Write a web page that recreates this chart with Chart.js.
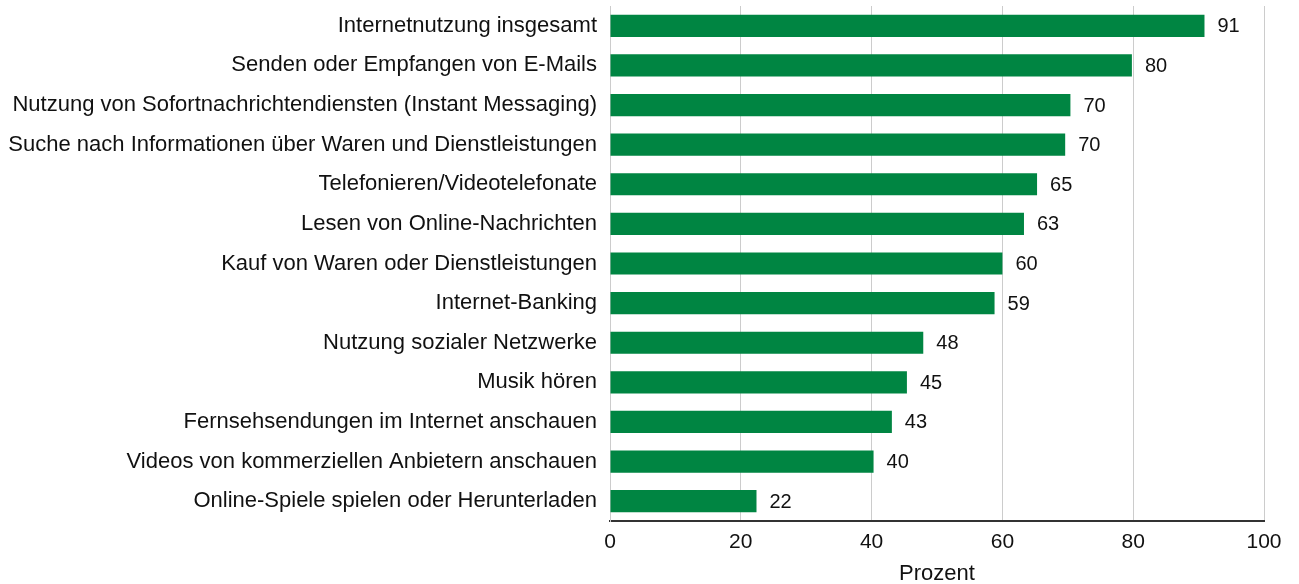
<!DOCTYPE html>
<html lang="de">
<head>
<meta charset="utf-8">
<title>Internetnutzung</title>
<script src="https://cdn.jsdelivr.net/npm/chart.js@4.4.1/dist/chart.umd.min.js"></script>
<style>
  html, body { margin: 0; padding: 0; background: #fff; }
  #wrap { width: 1299px; height: 584px; position: relative; }
</style>
</head>
<body>
<div id="wrap"><canvas id="chart"></canvas></div>
<script>
const categories = [
  "Internetnutzung insgesamt",
  "Senden oder Empfangen von E-Mails",
  "Nutzung von Sofortnachrichtendiensten (Instant Messaging)",
  "Suche nach Informationen über Waren und Dienstleistungen",
  "Telefonieren/Videotelefonate",
  "Lesen von Online-Nachrichten",
  "Kauf von Waren oder Dienstleistungen",
  "Internet-Banking",
  "Nutzung sozialer Netzwerke",
  "Musik hören",
  "Fernsehsendungen im Internet anschauen",
  "Videos von kommerziellen Anbietern anschauen",
  "Online-Spiele spielen oder Herunterladen",
];
const values = [90.9, 79.8, 70.4, 69.6, 65.3, 63.3, 60.0, 58.8, 47.9, 45.4, 43.1, 40.3, 22.4];
const xTicks = [0, 20, 40, 60, 80, 100];
const axisTitle = "Prozent";

const FONT = "'Liberation Sans', Arial, sans-serif";
const GREEN = "#008542";
const TEXT = "#111111";

const valueLabels = {
  id: "valueLabels",
  afterDatasetsDraw(chart) {
    const ctx = chart.ctx;
    const meta = chart.getDatasetMeta(0);
    ctx.save();
    ctx.font = "20px " + FONT;
    ctx.fillStyle = TEXT;
    ctx.textAlign = "left";
    ctx.textBaseline = "middle";
    meta.data.forEach((bar, i) => {
      ctx.fillText(Math.round(values[i]), bar.x + 13, bar.y + 1);
    });
    ctx.restore();
  },
};

new Chart(document.getElementById("chart"), {
  type: "bar",
  data: {
    labels: categories,
    datasets: [
      {
        data: values,
        backgroundColor: GREEN,
        borderWidth: 0,
        barPercentage: 0.56,
        categoryPercentage: 1.0,
      },
    ],
  },
  options: {
    indexAxis: "y",
    responsive: true,
    maintainAspectRatio: false,
    animation: false,
    layout: { padding: { top: 6, right: 35, bottom: 0, left: 0 } },
    plugins: {
      legend: { display: false },
      tooltip: { enabled: false },
    },
    scales: {
      x: {
        min: 0,
        max: 100,
        afterBuildTicks(scale) {
          scale.ticks = xTicks.map((v) => ({ value: v }));
        },
        afterFit(scale) {
          scale.height = 63;
          scale.paddingRight = 0;
          scale.paddingLeft = 0;
        },
        grid: {
          color: "#cccccc",
          lineWidth: 1,
          drawTicks: false,
        },
        border: { display: true, color: "#333333", width: 2 },
        ticks: {
          color: TEXT,
          font: { family: FONT, size: 21 },
          padding: 9,
          maxRotation: 0,
        },
        title: {
          display: true,
          text: axisTitle,
          color: TEXT,
          font: { family: FONT, size: 22 },
          padding: { top: 2, bottom: -3 },
        },
      },
      y: {
        afterFit(scale) {
          scale.width = 610;
          scale.paddingTop = 0;
          scale.paddingBottom = 0;
        },
        grid: { display: false, drawTicks: false },
        border: { display: true, color: "#cccccc", width: 1 },
        ticks: {
          color: TEXT,
          font: { family: FONT, size: 22 },
          padding: 13,
          autoSkip: false,
        },
      },
    },
  },
  plugins: [valueLabels],
});
</script>
</body>
</html>
